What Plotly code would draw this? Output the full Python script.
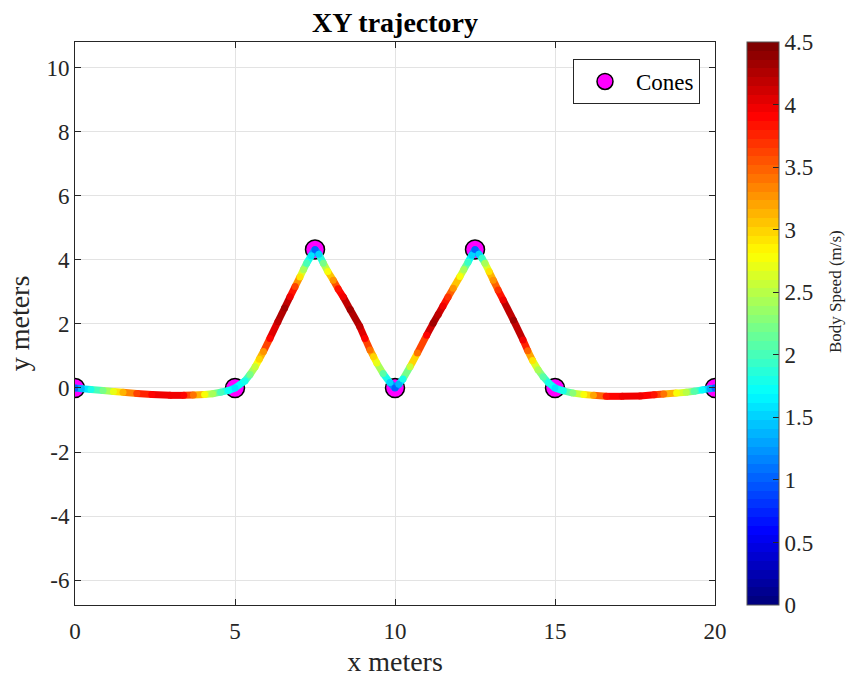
import plotly.graph_objects as go

# Cone positions (m)
cone_x = [0, 5, 7.5, 10, 12.5, 15, 20]
cone_y = [0, 0, 4.33, 0, 4.33, 0, 0]

# Body trajectory samples: x (m), y (m) and body speed (m/s)
path_x = [0.0, 0.2, 0.5, 0.875, 1.2, 1.5, 1.93, 2.4, 2.97, 3.4, 3.7, 4.05, 4.3, 4.55, 4.8,
          5.0, 5.31, 5.47, 5.63, 5.76, 5.89, 6.09, 6.34, 6.55, 6.72, 6.88, 7.03, 7.14, 7.24, 7.38,
          7.5, 7.62, 7.76, 7.9, 8.07, 8.22, 8.38, 8.6, 8.9, 9.06, 9.22, 9.33, 9.43, 9.63, 9.84,
          10.0, 10.12, 10.25, 10.47, 10.7, 10.99, 11.19, 11.35, 11.5, 11.66, 11.82, 12.03, 12.15,
          12.28, 12.4, 12.5, 12.62, 12.72, 12.81, 12.94, 13.07, 13.22, 13.38, 13.7, 14.0, 14.15,
          14.3, 14.47, 14.63, 14.8, 15.0, 15.26, 15.56, 15.9, 16.2, 16.6, 17.1, 17.66, 18.1, 18.4,
          18.8, 19.1, 19.35, 19.6, 19.85, 20.0]
path_y = [0.0, -0.02, -0.05, -0.08, -0.11, -0.13, -0.17, -0.2, -0.23, -0.23, -0.22, -0.2, -0.18, -0.13, -0.08,
          0.0, 0.22, 0.42, 0.66, 0.9, 1.14, 1.55, 2.07, 2.5, 2.85, 3.17, 3.47, 3.7, 3.9, 4.13,
          4.33, 4.18, 3.9, 3.64, 3.37, 3.1, 2.85, 2.45, 1.92, 1.55, 1.19, 0.98, 0.78, 0.45, 0.17,
          0.0, 0.12, 0.28, 0.66, 1.09, 1.65, 2.02, 2.3, 2.56, 2.84, 3.12, 3.48, 3.7,
          3.93, 4.15, 4.33, 4.18, 4.05, 3.9, 3.64, 3.37, 3.06, 2.75, 2.12, 1.5, 1.16,
          0.86, 0.57, 0.35, 0.16, 0.0, -0.09, -0.16, -0.2, -0.23, -0.26, -0.26, -0.25, -0.21, -0.19,
          -0.16, -0.13, -0.1, -0.06, -0.02, 0.0]
path_speed = [1.0, 1.4, 1.8, 2.2, 2.7, 3.1, 3.6, 3.9, 4.0, 3.9, 3.4, 2.8, 2.4, 2.0, 1.7,
              1.6, 1.8, 2.2, 2.6, 3.0, 3.3, 3.9, 4.2, 4.3, 4.0, 3.6, 2.9, 2.4, 2.0, 1.6,
              1.0, 1.5, 2.2, 2.8, 3.3, 3.8, 4.0, 4.3, 4.2, 3.9, 3.4, 3.0, 2.7, 2.1, 1.5,
              1.0, 1.4, 1.8, 2.6, 3.4, 3.9, 4.3, 4.2, 4.0, 3.7, 3.3, 2.8, 2.4,
              1.9, 1.5, 1.0, 1.5, 1.9, 2.4, 2.9, 3.3, 3.7, 4.0, 4.3, 4.0, 3.5,
              2.9, 2.4, 2.1, 1.8, 1.6, 1.8, 2.3, 2.8, 3.2, 3.8, 4.0, 4.0, 3.8, 3.4,
              2.8, 2.5, 2.1, 1.7, 1.3, 1.0]

x_ticks = [0, 5, 10, 15, 20]
x_tick_text = ["0", "5", "10", "15", "20"]
y_ticks = [-6, -4, -2, 0, 2, 4, 6, 8, 10]
y_tick_text = ["-6", "-4", "-2", "0", "2", "4", "6", "8", "10"]
speed_ticks = [0, 0.5, 1, 1.5, 2, 2.5, 3, 3.5, 4, 4.5]
speed_tick_text = ["0", "0.5", "1", "1.5", "2", "2.5", "3", "3.5", "4", "4.5"]

SPEED_MIN, SPEED_MAX = 0.0, 4.5
N_LEVELS = 64
FONT = "Liberation Serif, Times New Roman, serif"
AXIS_COLOR = "#262626"


def jet_rgb(t):
    """Classic 'jet' colormap value for t in [0, 1]."""
    def clip(v):
        return max(0.0, min(1.0, v))
    r = clip(1.5 - abs(4 * t - 3))
    g = clip(1.5 - abs(4 * t - 2))
    b = clip(1.5 - abs(4 * t - 1))
    return "rgb({:d},{:d},{:d})".format(round(r * 255), round(g * 255), round(b * 255))


def speed_color(v):
    t = (v - SPEED_MIN) / (SPEED_MAX - SPEED_MIN)
    k = min(N_LEVELS - 1, max(0, int(t * N_LEVELS)))
    return jet_rgb(k / (N_LEVELS - 1))


# Stepped 64-level jet colorscale
jet_scale = []
for k in range(N_LEVELS):
    c = jet_rgb(k / (N_LEVELS - 1))
    jet_scale.append([k / N_LEVELS, c])
    jet_scale.append([(k + 1) / N_LEVELS, c])

fig = go.Figure()

fig.add_trace(go.Scatter(
    x=cone_x, y=cone_y, mode="markers", name="Cones",
    marker=dict(size=19, color="#ff00ff", line=dict(color="black", width=1.5)),
))

# Trajectory drawn piecewise, each piece coloured by its speed
for i in range(len(path_x) - 1):
    fig.add_trace(go.Scatter(
        x=[path_x[i], path_x[i + 1]], y=[path_y[i], path_y[i + 1]],
        mode="lines", showlegend=False, hoverinfo="skip",
        line=dict(color=speed_color(0.5 * (path_speed[i] + path_speed[i + 1])), width=7),
    ))

# Sample points (round joints) carrying the colour bar
fig.add_trace(go.Scatter(
    x=path_x, y=path_y, mode="markers", showlegend=False,
    marker=dict(
        size=7, color=path_speed, colorscale=jet_scale,
        cmin=SPEED_MIN, cmax=SPEED_MAX, line=dict(width=0),
        showscale=True,
        colorbar=dict(
            thickness=32, thicknessmode="pixels", len=1, lenmode="fraction",
            x=(747 - 75) / 640, xanchor="left", y=0.5, yanchor="middle",
            xpad=0, ypad=0,
            outlinewidth=1, outlinecolor="#555555",
            tickmode="array", tickvals=speed_ticks, ticktext=speed_tick_text,
            ticks="inside", ticklen=6, tickcolor=AXIS_COLOR,
            tickfont=dict(family=FONT, size=23, color=AXIS_COLOR),
        ),
    ),
))

axis_common = dict(
    showline=True, linecolor=AXIS_COLOR, linewidth=1, mirror="ticks",
    ticks="inside", ticklen=6, tickcolor=AXIS_COLOR,
    showgrid=True, gridcolor="#e3e3e3", gridwidth=1, zeroline=False,
    tickfont=dict(family=FONT, size=23, color=AXIS_COLOR),
    automargin=False,
)

fig.update_layout(
    width=846, height=677,
    margin=dict(l=75, r=131, t=42, b=72, autoexpand=False),
    paper_bgcolor="white", plot_bgcolor="white",
    title=dict(text="<b>XY trajectory</b>", x=0.5, xref="paper", y=1 - 22 / 677,
               yref="container", xanchor="center", yanchor="middle",
               font=dict(family=FONT, size=28, color="black")),
    xaxis=dict(range=[0, 20], tickvals=x_ticks, ticktext=x_tick_text,
               ticklabelstandoff=5,
               title=dict(text="x meters", standoff=8,
                          font=dict(family=FONT, size=28, color=AXIS_COLOR)),
               **axis_common),
    yaxis=dict(range=[-6.78, 10.81], tickvals=y_ticks, ticktext=y_tick_text,
               title=dict(text="y meters", standoff=8,
                          font=dict(family=FONT, size=28, color=AXIS_COLOR)),
               **axis_common),
    legend=dict(x=(700 - 75) / 640, y=(605 - 59) / 563, xanchor="right", yanchor="top",
                bgcolor="white", bordercolor=AXIS_COLOR, borderwidth=1,
                itemwidth=52,
                font=dict(family=FONT, size=23, color="black")),
    showlegend=True,
    annotations=[dict(
        text="Body Speed (m/s)", textangle=-90, showarrow=False,
        xref="paper", yref="paper", x=(835 - 75) / 640, y=(605 - 292) / 563,
        xanchor="center", yanchor="middle",
        font=dict(family=FONT, size=17, color=AXIS_COLOR),
    )],
)

fig.write_html("out.html")
